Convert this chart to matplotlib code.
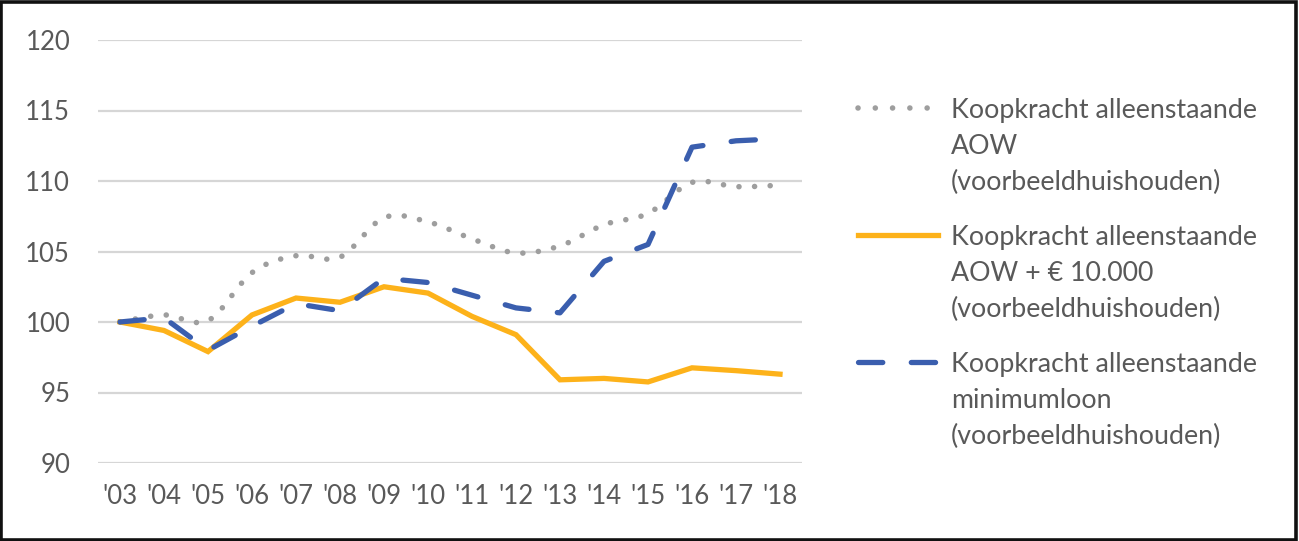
import matplotlib
matplotlib.use("Agg")
import matplotlib.pyplot as plt
from matplotlib.path import Path
from matplotlib.patches import PathPatch, Rectangle
from matplotlib.lines import Line2D
import numpy as np

years = ["'03", "'04", "'05", "'06", "'07", "'08", "'09", "'10",
         "'11", "'12", "'13", "'14", "'15", "'16", "'17", "'18"]
aow = [100.0, 100.5, 100.1, 103.5, 104.7, 104.6, 107.4, 107.1,
       105.9, 104.9, 105.4, 106.9, 107.7, 109.9, 109.6, 109.7]
aow_plus = [100.0, 99.4, 97.9, 100.5, 101.7, 101.4, 102.5, 102.05,
            100.4, 99.1, 95.9, 96.0, 95.75, 96.75, 96.55, 96.3]
minloon = [100.0, 100.3, 98.0, 99.7, 101.3, 100.8, 103.1, 102.8,
           101.9, 101.0, 100.65, 104.3, 105.5, 112.4, 112.85, 113.0]
labels = [["Koopkracht alleenstaande", "AOW", "(voorbeeldhuishouden)"],
          ["Koopkracht alleenstaande", "AOW + \u20ac 10.000", "(voorbeeldhuishouden)"],
          ["Koopkracht alleenstaande", "minimumloon", "(voorbeeldhuishouden)"]]
yticks = [90, 95, 100, 105, 110, 115, 120]

GRAY = "#9E9E9E"
ORANGE = "#FDB21A"
BLUE = "#3A5EAE"
TXT = "#595959"
FONT = "Lato"

W, H = 1299, 541
fig = plt.figure(figsize=(W / 100, H / 100), dpi=100)
ax = fig.add_axes([98 / W, 1 - 463 / H, (802 - 98) / W, (463 - 40) / H])

x = np.arange(len(years))
ax.set_xlim(-0.5, len(years) - 0.5)
ax.set_ylim(90, 120)
ax.set_yticks(yticks)
ax.set_xticks(x)
ax.set_xticklabels(years)
for s in ax.spines.values():
    s.set_visible(False)
ax.tick_params(length=0, labelsize=18.5, labelcolor=TXT)
ax.tick_params(axis="y", pad=20)
ax.tick_params(axis="x", pad=15)
for lab in ax.get_xticklabels() + ax.get_yticklabels():
    lab.set_fontfamily(FONT)
ax.grid(axis="y", color="#D6D6D6", lw=1.6)
ax.set_axisbelow(True)

# smoothed gray line (Excel-style Catmull-Rom Bezier)
pts = np.column_stack([x, aow]).astype(float)
verts = [tuple(pts[0])]
codes = [Path.MOVETO]
n = len(pts)
for i in range(n - 1):
    p0 = pts[i - 1] if i > 0 else pts[i]
    p1 = pts[i]
    p2 = pts[i + 1]
    p3 = pts[i + 2] if i + 2 < n else pts[i + 1]
    c1 = p1 + (p2 - p0) / 6.0
    c2 = p2 - (p3 - p1) / 6.0
    verts += [tuple(c1), tuple(c2), tuple(p2)]
    codes += [Path.CURVE4] * 3
gray_dash = (0, (0.01, 2.8))
patch = PathPatch(Path(verts, codes), fill=False, edgecolor=GRAY, lw=4.0,
                  linestyle=gray_dash, capstyle="round", zorder=3)
ax.add_patch(patch)

ax.plot(x, aow_plus, color=ORANGE, lw=3.8, solid_joinstyle="miter", zorder=4)
blue_dash = (0, (4.6, 5.4))
ax.plot(x, minloon, color=BLUE, lw=3.8, linestyle=blue_dash,
        dash_capstyle="round", zorder=5)

# legend, drawn manually
def fy(py):
    return 1 - py / H

handle_y = [108, 235, 362]
styles = [dict(color=GRAY, lw=4.0, linestyle=(0, (0.01, 3.1)), dash_capstyle="round"),
          dict(color=ORANGE, lw=3.8),
          dict(color=BLUE, lw=3.8, linestyle=blue_dash, dash_capstyle="round")]
for hy, st, lines in zip(handle_y, styles, labels):
    fig.add_artist(Line2D([858 / W, 938 / W], [fy(hy), fy(hy)], **st))
    for k, t in enumerate(lines):
        fig.text(951 / W, fy(hy + 10 + 36 * k), t, fontsize=19.3, color=TXT,
                 family=FONT, va="baseline", ha="left")

fig.add_artist(Rectangle((0.001, 0.002), 0.997, 0.995, transform=fig.transFigure,
                         fill=False, edgecolor="#111111", lw=2.6))

fig.savefig("out.png", dpi=100, facecolor="white")
